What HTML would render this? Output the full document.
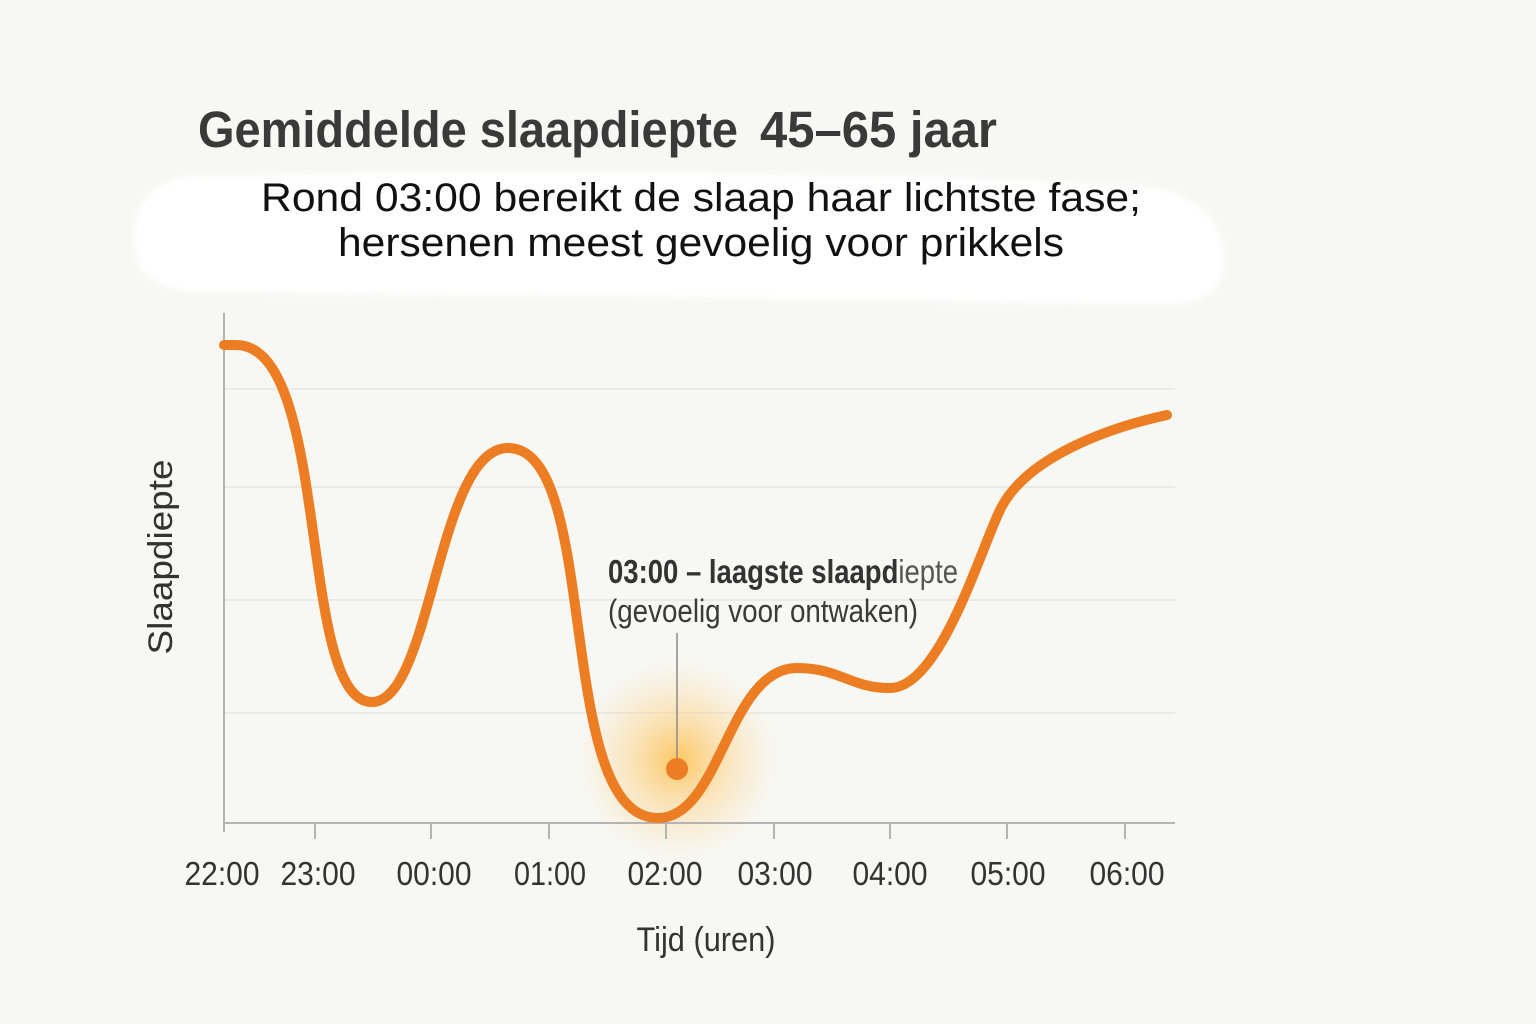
<!DOCTYPE html>
<html><head><meta charset="utf-8"><style>
html,body{margin:0;padding:0;background:#f7f7f3;}
svg{display:block;}
</style></head><body>
<svg width="1536" height="1024" viewBox="0 0 1536 1024" xmlns="http://www.w3.org/2000/svg">
<defs>
<radialGradient id="glow" cx="678" cy="760" r="100" gradientUnits="userSpaceOnUse">
<stop offset="0" stop-color="#ffb732" stop-opacity="0.75"/>
<stop offset="0.45" stop-color="#ffc55e" stop-opacity="0.4"/>
<stop offset="1" stop-color="#ffd690" stop-opacity="0"/>
</radialGradient>
<filter id="soft" x="-5%" y="-20%" width="110%" height="140%"><feGaussianBlur stdDeviation="3"/></filter>
</defs>
<rect width="1536" height="1024" fill="#f7f7f3"/>
<path d="M200,176 C500,168 900,172 1140,186 C1215,192 1228,240 1224,268 C1220,300 1190,306 1140,304 C900,300 500,296 200,292 C140,290 132,262 134,232 C136,195 160,178 200,176 Z" fill="#ffffff" filter="url(#soft)"/>
<text x="198" y="147" font-family="Liberation Sans, sans-serif" font-weight="bold" font-size="51" fill="#3a3a3a" textLength="540" lengthAdjust="spacingAndGlyphs">Gemiddelde slaapdiepte</text>
<text x="760" y="147" font-family="Liberation Sans, sans-serif" font-weight="bold" font-size="51" fill="#3a3a3a" textLength="237" lengthAdjust="spacingAndGlyphs">45–65 jaar</text>
<text x="261" y="211" font-family="Liberation Sans, sans-serif" font-size="40" fill="#111" textLength="880" lengthAdjust="spacingAndGlyphs">Rond 03:00 bereikt de slaap haar lichtste fase;</text>
<text x="338" y="256" font-family="Liberation Sans, sans-serif" font-size="40" fill="#111" textLength="726" lengthAdjust="spacingAndGlyphs">hersenen meest gevoelig voor prikkels</text>
<g stroke="#e6e6e3" stroke-width="1.5">
<line x1="224" y1="389" x2="1175" y2="389"/>
<line x1="224" y1="487" x2="1175" y2="487"/>
<line x1="224" y1="600" x2="1175" y2="600"/>
<line x1="224" y1="713" x2="1175" y2="713"/>
</g>
<rect x="578" y="660" width="200" height="200" fill="url(#glow)"/>
<g stroke="#b4b4b4" stroke-width="2">
<line x1="224" y1="313" x2="224" y2="832"/>
<line x1="224" y1="823" x2="1175" y2="823"/>
<line x1="315" y1="823" x2="315" y2="839"/>
<line x1="431" y1="823" x2="431" y2="839"/>
<line x1="549" y1="823" x2="549" y2="839"/>
<line x1="666" y1="823" x2="666" y2="839"/>
<line x1="774" y1="823" x2="774" y2="839"/>
<line x1="890" y1="823" x2="890" y2="839"/>
<line x1="1007" y1="823" x2="1007" y2="839"/>
<line x1="1125" y1="823" x2="1125" y2="839"/>
</g>
<path d="M224,345 L236,345 C332,345 297,702 372,702 C432,702 437,448 508,448 C602,448 553,818 658,818 C721,818 728,668 797,668 C840,668 850,688 890,688 C940,688 980,551 1000,510 C1025,458 1107,428 1167,415" fill="none" stroke="#ec7d22" stroke-width="10" stroke-linecap="round" stroke-linejoin="round"/>
<line x1="677" y1="633" x2="677" y2="762" stroke="#8a8a8a" stroke-width="1.5"/>
<circle cx="677" cy="769" r="11" fill="#ec7d22"/>
<text x="608" y="583" font-family="Liberation Sans, sans-serif" font-size="33" fill="#333" textLength="350" lengthAdjust="spacingAndGlyphs"><tspan font-weight="bold">03:00 – laagste slaapd</tspan><tspan fill="#555">iepte</tspan></text>
<text x="608" y="622" font-family="Liberation Sans, sans-serif" font-size="32" fill="#3a3a3a" textLength="310" lengthAdjust="spacingAndGlyphs">(gevoelig voor ontwaken)</text>
<g font-family="Liberation Sans, sans-serif" font-size="33" fill="#333" text-anchor="middle">
<text x="222" y="885" textLength="75" lengthAdjust="spacingAndGlyphs">22:00</text>
<text x="318" y="885" textLength="75" lengthAdjust="spacingAndGlyphs">23:00</text>
<text x="434" y="885" textLength="75" lengthAdjust="spacingAndGlyphs">00:00</text>
<text x="550" y="885" textLength="72" lengthAdjust="spacingAndGlyphs">01:00</text>
<text x="665" y="885" textLength="75" lengthAdjust="spacingAndGlyphs">02:00</text>
<text x="775" y="885" textLength="75" lengthAdjust="spacingAndGlyphs">03:00</text>
<text x="890" y="885" textLength="75" lengthAdjust="spacingAndGlyphs">04:00</text>
<text x="1008" y="885" textLength="75" lengthAdjust="spacingAndGlyphs">05:00</text>
<text x="1127" y="885" textLength="75" lengthAdjust="spacingAndGlyphs">06:00</text>
<text x="706" y="951" font-size="34" textLength="139" lengthAdjust="spacingAndGlyphs">Tijd (uren)</text>
</g>
<text transform="translate(172,557) rotate(-90)" text-anchor="middle" font-family="Liberation Sans, sans-serif" font-size="34" fill="#333" textLength="195" lengthAdjust="spacingAndGlyphs">Slaapdiepte</text>
</svg>
</body></html>
